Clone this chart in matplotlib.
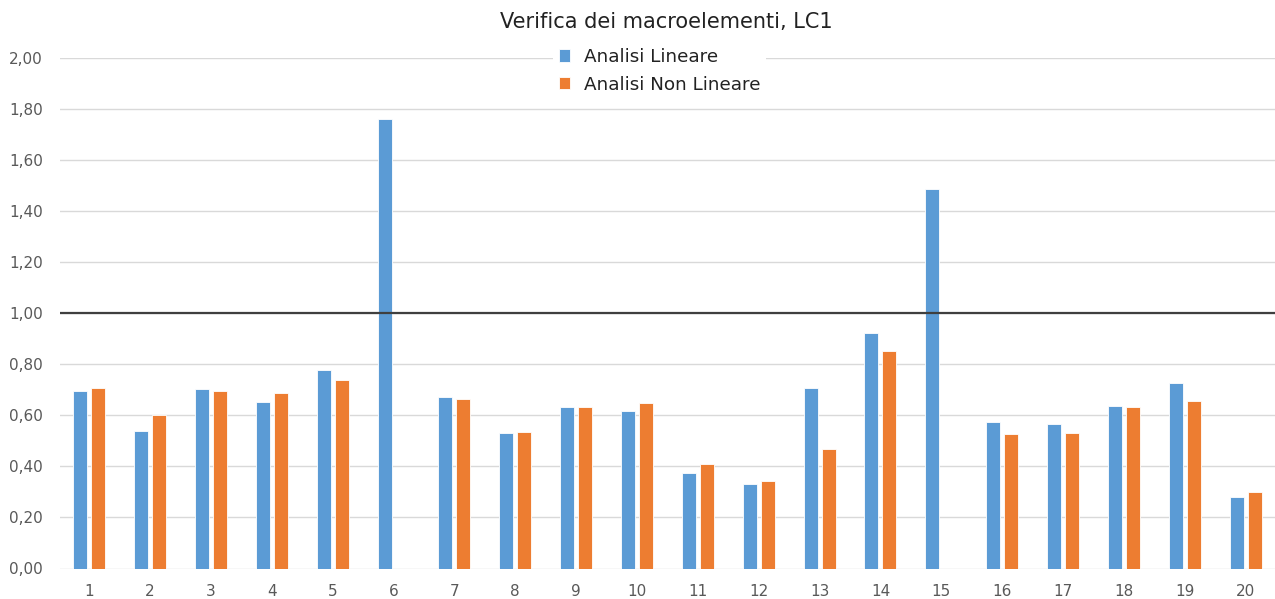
import numpy as np
import matplotlib.pyplot as plt
from matplotlib.ticker import FuncFormatter

plt.rcParams['font.family'] = ['DejaVu Sans']

# macroelementi 1..20
elementi = list(range(1, 21))
lineare = [0.697, 0.537, 0.705, 0.651, 0.777, 1.761, 0.673, 0.531, 0.634, 0.618,
           0.376, 0.332, 0.707, 0.922, 1.485, 0.572, 0.567, 0.637, 0.727, 0.279]
non_lineare = [0.707, 0.601, 0.694, 0.688, 0.738, np.nan, 0.663, 0.536, 0.632, 0.649,
               0.411, 0.341, 0.468, 0.854, np.nan, 0.525, 0.532, 0.632, 0.658, 0.299]
soglia = 1.0

blu = '#5B9BD5'
arancio = '#ED7D31'
grigio = '#595959'

fig = plt.figure(figsize=(12.75, 5.99), dpi=100)
ax = fig.add_axes([59.5 / 1275, 1 - 568.5 / 599, (1276 - 59.5) / 1275, (568.5 - 58) / 599])

x = np.array(elementi)
w = 0.23
off = 0.148
ax.bar(x - off, lineare, w, color=blu, edgecolor='white', linewidth=0.6,
       label='Analisi Lineare', zorder=3)
ax.bar(x + off, non_lineare, w, color=arancio, edgecolor='white', linewidth=0.6,
       label='Analisi Non Lineare', zorder=3)

# linea di verifica a 1,00
ax.axhline(soglia, color='#3f3f3f', linewidth=1.6, zorder=4)

ax.set_xlim(0.51, 20.5)
ax.set_ylim(0, 2.0)
ax.set_yticks(np.arange(0, 2.01, 0.2))
ax.set_xticks(x)
ax.yaxis.set_major_formatter(FuncFormatter(lambda v, p: f'{v:.2f}'.replace('.', ',')))
ax.grid(axis='y', color='#d9d9d9', linewidth=1.0, zorder=0)
ax.set_axisbelow(True)
for s in ax.spines.values():
    s.set_visible(False)
ax.tick_params(axis='both', length=0, labelsize=11, labelcolor=grigio)
ax.tick_params(axis='y', pad=12)
ax.tick_params(axis='x', pad=11)

fig.text(666 / 1275, 1 - 22 / 599, 'Verifica dei macroelementi, LC1', ha='center', va='center',
         fontsize=15, color='#222222')

leg = ax.legend(loc='upper left', bbox_to_anchor=(553 / 1275, 1 - 42.5 / 599),
                bbox_transform=fig.transFigure, frameon=True, fontsize=13.2,
                handlelength=0.65, handleheight=0.65, handletextpad=0.75,
                labelspacing=0.52, borderpad=0.3, borderaxespad=0)
leg.get_frame().set_edgecolor('none')
leg.get_frame().set_facecolor('white')
leg.get_frame().set_alpha(1)
for t in leg.get_texts():
    t.set_color('#222222')

fig.savefig('out.png', dpi=100)
